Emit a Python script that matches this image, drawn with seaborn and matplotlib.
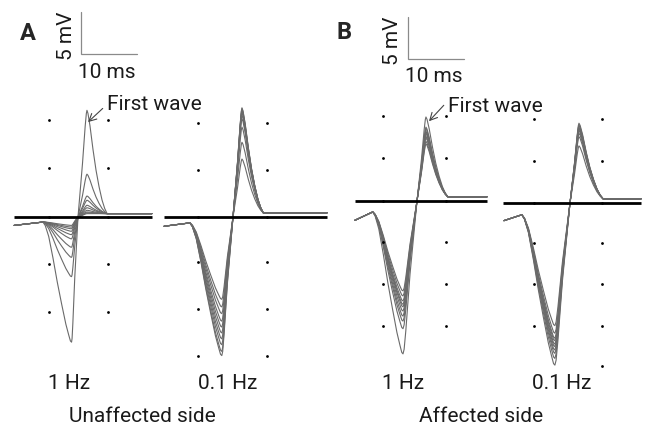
import numpy as np
import pandas as pd
import matplotlib
matplotlib.use("Agg")
import matplotlib.pyplot as plt
import seaborn as sns

sns.set_theme(style="white")
plt.rcParams["font.family"] = ["Roboto", "DejaVu Sans"]

# ---------------- data (ms, mV) ----------------
# normalised waveform template
desc_frac = [0.0, 0.08, 0.2, 0.35, 0.5, 0.65, 0.8, 0.9, 0.96, 1.0]
desc_depth = [0.0, 0.03, 0.12, 0.3, 0.5, 0.68, 0.85, 0.94, 0.99, 1.0]
rise_frac = [0.08, 0.2, 0.5, 1.0]
rise_depth = [0.97, 0.85, 0.48, 0.0]
up_frac = [0.5, 0.8, 0.93, 1.0]
up_height = [0.5, 0.85, 0.97, 1.0]
decay_frac = [0.05, 0.15, 0.3, 0.45, 0.6, 0.75, 0.88, 1.0]
decay_height = [0.97, 0.85, 0.62, 0.42, 0.26, 0.13, 0.05, 0.0]

freq_labels = ["1 Hz", "0.1 Hz", "1 Hz", "0.1 Hz"]
side_labels = ["Unaffected side", "Affected side"]
panel_letters = ["A", "B"]

# timing per panel (ms, relative to the zero crossing)
t_start = [-11.4, -12.3, -11.1, -11.8]
t_onset = [-6.25, -7.7, -7.9, -8.6]
t_trough = [-1.15, -2.0, -2.5, -2.7]
t_peak = [1.6, 1.6, 1.6, 1.6]
t_end = [5.2, 5.4, 5.5, 5.9]
t_stop = [13.2, 16.8, 12.5, 12.7]
v_start = [-1.0, -1.1, -2.3, -2.1]
v_onset = [-0.6, -0.7, -1.3, -1.4]
v_tail = [0.4, 0.5, 0.5, 0.5]

# trough depth / peak height of each trace (mV)
trough_A1 = [14.9, 7.1, 4.8, 3.6, 2.6, 2.1, 1.7, 1.4, 1.2, 1.0]
peak_A1 = [12.7, 5.1, 2.5, 2.0, 1.4, 1.1, 0.8, 0.6, 0.5, 0.4]
trough_A2 = [9.8, 10.7, 11.5, 12.4, 13.1, 13.8, 14.5, 15.2, 16.0, 16.5]
peak_A2 = [6.9, 8.9, 10.7, 11.7, 12.1, 12.4, 12.6, 12.7, 12.9, 13.0]
trough_B1 = [10.7, 11.3, 11.9, 12.3, 12.6, 13.1, 13.7, 14.3, 15.2, 18.2]
peak_B1 = [6.8, 7.1, 7.5, 7.7, 8.0, 8.2, 8.3, 8.6, 8.8, 10.0]
trough_B2 = [14.6, 15.5, 16.1, 16.4, 16.8, 17.1, 17.5, 17.9, 18.5, 19.3]
peak_B2 = [6.8, 7.9, 8.3, 8.6, 8.8, 8.9, 9.0, 9.2, 9.3, 9.5]
troughs = [trough_A1, trough_A2, trough_B1, trough_B2]
peaks = [peak_A1, peak_A2, peak_B1, peak_B2]

# zero (black) line extents, ms
base_left = [-11.4, -12.3, -11.1, -12.0]
base_right = [13.2, 16.8, 12.5, 12.7]

# screen grid dots
dot_cols = [[-5.2, 5.4], [-6.25, 6.07], [-6.1, 5.2], [-6.4, 5.7]]
dot_rows = [[11.5, 5.8, 0, -5.6, -11.3],
            [11.2, 5.6, 0, -5.4, -11.0, -16.5],
            [10.1, 5.1, 0, -4.9, -9.9, -14.9],
            [10.0, 5.0, 0, -4.8, -9.6, -14.6]]
extra_dot_t = [None, None, None, 5.7]
extra_dot_v = [None, None, None, -19.4]

# ---------------- layout ----------------
W, H = 648, 427
PX_MS, PX_MV = 5.6, 8.4
origin_px = [(78, 218), (233, 218), (417, 202), (570, 204)]
trace_color = "#6a6a6a"

fig = plt.figure(figsize=(W / 100, H / 100), dpi=100)
fig.patch.set_facecolor("white")

axes = []
for i in range(4):
    x0, y0 = origin_px[i]
    ax = fig.add_axes([0, 0, 1, 1])
    ax.set_xlim(-x0 / PX_MS, (W - x0) / PX_MS)
    ax.set_ylim((y0 - H) / PX_MV, y0 / PX_MV)
    ax.axis("off")
    ax.patch.set_alpha(0)
    axes.append(ax)

    rows = []
    for k, (tr, pk) in enumerate(zip(troughs[i], peaks[i])):
        ts = [t_start[i]]
        vs = [v_start[i]]
        for f, d in zip(desc_frac, desc_depth):
            ts.append(t_onset[i] + f * (t_trough[i] - t_onset[i]))
            vs.append(v_onset[i] + d * (-tr - v_onset[i]))
        for f, d in zip(rise_frac, rise_depth):
            ts.append(t_trough[i] + f * (0 - t_trough[i]))
            vs.append(-tr * d)
        for f, h in zip(up_frac, up_height):
            ts.append(f * t_peak[i])
            vs.append(pk * h)
        for f, h in zip(decay_frac, decay_height):
            ts.append(t_peak[i] + f * (t_end[i] - t_peak[i]))
            vs.append(v_tail[i] + h * (pk - v_tail[i]))
        ts.append(t_stop[i])
        vs.append(v_tail[i])
        for n, (t, v) in enumerate(zip(ts, vs)):
            rows.append({"trace": k, "n": n, "t": t, "v": v})
    df = pd.DataFrame(rows)
    sns.lineplot(data=df, x="t", y="v", units="trace", estimator=None,
                 sort=False, color=trace_color, lw=0.8, ax=ax, legend=False)

    ax.hlines(0, base_left[i], base_right[i], color="black", lw=2.0, zorder=5)

    dd = pd.DataFrame([(c, r) for r in dot_rows[i] for c in dot_cols[i]],
                      columns=["t", "v"])
    if extra_dot_t[i] is not None:
        dd.loc[len(dd)] = [extra_dot_t[i], extra_dot_v[i]]
    sns.scatterplot(data=dd, x="t", y="v", s=4, color="black",
                    linewidth=0, ax=ax, zorder=6, legend=False)
    ax.set_xlabel("")
    ax.set_ylabel("")

# scale bars (10 ms, 5 mV) drawn in data units
bar_corner = {0: (0.54, 19.4), 2: (-1.6, 16.9)}
for i, (bt, bv) in bar_corner.items():
    ax = axes[i]
    ax.plot([bt, bt, bt + 10], [bv + 5, bv, bv], color="#8a8a8a", lw=0.9,
            solid_joinstyle="miter")


def fx(x):
    return x / W


def fy(y):
    return 1 - y / H


font_kw = dict(fontsize=15, fontweight="normal", color="#1a1a1a")

# panel letters
fig.text(fx(20), fy(40), panel_letters[0], fontsize=17, fontweight="bold", ha="left", va="baseline")
fig.text(fx(337), fy(39), panel_letters[1], fontsize=17, fontweight="bold", ha="left", va="baseline")

# scale bar labels
fig.text(fx(67), fy(36), "5 mV", rotation=90, ha="center", va="center", **font_kw)
fig.text(fx(107), fy(78), "10 ms", ha="center", va="baseline", **font_kw)
fig.text(fx(393), fy(41), "5 mV", rotation=90, ha="center", va="center", **font_kw)
fig.text(fx(434), fy(82), "10 ms", ha="center", va="baseline", **font_kw)

# first-wave annotations
arrow = dict(arrowstyle="->,head_length=0.35,head_width=0.18", color="#444444",
             lw=0.8, shrinkA=1, shrinkB=0)
axes[0].annotate("First wave", xy=(1.79, 11.3), xytext=(fx(107), fy(110)),
                 textcoords="figure fraction", ha="left", va="baseline",
                 arrowprops=dict(arrow, relpos=(0, 0.45)), **font_kw)
axes[2].annotate("First wave", xy=(2.14, 9.5), xytext=(fx(448), fy(112)),
                 textcoords="figure fraction", ha="left", va="baseline",
                 arrowprops=dict(arrow, relpos=(0, 0.75)), **font_kw)

# frequency labels and side labels
freq_x = [69, 228, 403, 562]
for lab, x in zip(freq_labels, freq_x):
    fig.text(fx(x), fy(389), lab, ha="center", va="baseline", **font_kw)
fig.text(fx(142), fy(422), side_labels[0], ha="center", va="baseline", **font_kw)
fig.text(fx(481), fy(422), side_labels[1], ha="center", va="baseline", **font_kw)

fig.savefig("out.png", dpi=100, facecolor="white")
